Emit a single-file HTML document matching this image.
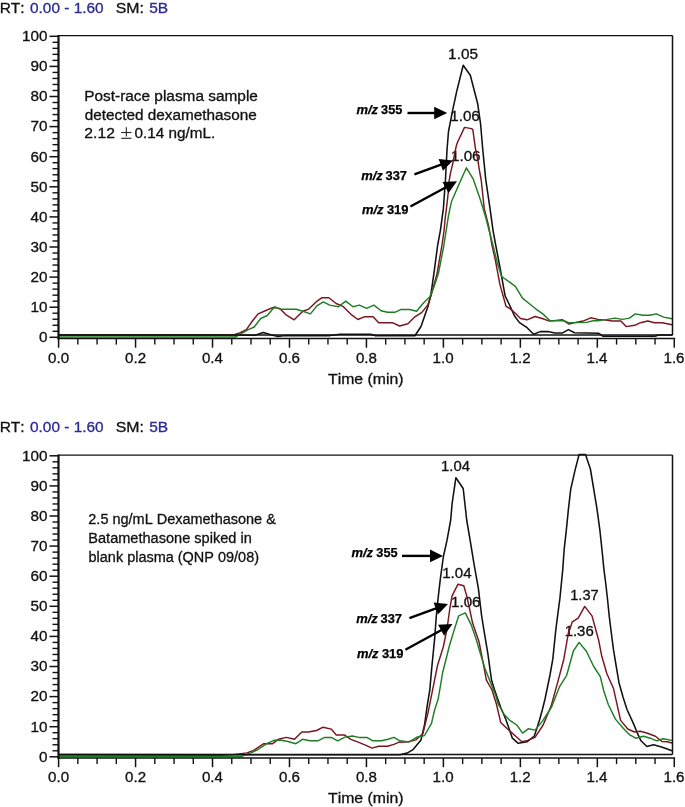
<!DOCTYPE html>
<html><head><meta charset="utf-8"><style>
html,body{margin:0;padding:0;background:#fff;}
svg{display:block;will-change:transform;font-family:"Liberation Sans",sans-serif;font-kerning:none;}
</style></head><body>
<svg width="685" height="807" viewBox="0 0 685 807">
<rect width="685" height="807" fill="#fff"/>
<text x="448.13" y="58.90" font-size="14" stroke="#111" stroke-width="0.3" fill="#111" textLength="29.81" lengthAdjust="spacingAndGlyphs">1.05</text>
<text x="450.24" y="120.60" font-size="14" stroke="#111" stroke-width="0.3" fill="#111" textLength="29.52" lengthAdjust="spacingAndGlyphs">1.06</text>
<text x="450.94" y="161.00" font-size="14" stroke="#111" stroke-width="0.3" fill="#111" textLength="29.63" lengthAdjust="spacingAndGlyphs">1.06</text>
<polyline points="58.8,335.0 220.0,335.0 255.0,335.2 263.4,332.6 270.0,334.6 277.8,336.6 285.0,335.6 330.0,335.6 340.0,334.2 370.7,334.2 375.5,335.8 400.0,335.5 414.9,335.8 421.0,326.5 428.0,306.3 430.7,295.8 434.2,271.3 437.7,245.0 440.4,230.3 443.4,208.4 445.5,179.2 447.0,150.0 448.5,131.5 452.8,109.6 456.7,91.4 463.2,65.3 470.3,75.3 477.7,103.8 480.6,124.2 482.8,150.0 485.7,179.2 490.0,208.4 493.0,230.3 495.7,245.0 500.7,271.3 505.1,295.8 509.8,305.5 514.5,316.0 519.5,322.6 527.1,327.7 533.7,334.2 540.2,331.6 548.1,331.6 554.7,332.9 562.6,332.9 568.5,329.6 574.4,332.7 598.5,333.2 603.1,336.3 655.0,336.3 659.0,335.0 672.0,335.0" fill="none" stroke="#111" stroke-width="1.55" stroke-linejoin="round" stroke-linecap="round"/>
<polyline points="58.8,335.2 225.0,335.2 233.1,334.9 239.7,333.0 246.3,329.7 252.8,320.5 258.1,313.9 264.7,311.0 272.6,307.6 279.8,308.4 285.7,314.6 294.2,319.8 302.8,311.3 308.8,309.1 316.1,301.9 321.7,297.8 328.9,297.8 336.1,303.5 343.4,306.7 351.4,314.7 357.8,319.5 364.2,316.8 373.1,316.8 378.7,322.7 392.3,322.7 399.6,326.0 407.9,323.8 414.9,316.8 421.9,312.4 428.0,304.6 431.5,294.0 436.8,274.8 442.0,245.0 444.1,230.3 445.0,220.0 446.9,204.6 448.4,191.2 449.1,180.8 450.6,172.6 452.7,163.8 454.4,155.0 456.2,146.3 457.5,142.3 464.5,127.4 471.5,128.6 472.8,129.6 475.5,148.9 477.7,159.4 479.8,172.5 481.2,180.0 484.2,208.4 488.6,225.9 492.0,245.0 495.5,260.8 499.9,284.4 506.0,306.3 510.0,308.6 515.3,313.2 520.5,318.5 527.1,319.8 535.0,316.5 542.2,318.5 549.4,321.1 562.6,319.8 569.1,324.1 575.7,322.4 584.2,320.7 590.8,317.8 597.9,319.4 605.8,320.1 612.3,321.0 620.9,321.0 626.1,326.6 634.7,325.3 640.6,322.7 647.8,321.0 654.4,322.7 662.3,322.7 672.1,324.7" fill="none" stroke="#7a1520" stroke-width="1.45" stroke-linejoin="round" stroke-linecap="round"/>
<polyline points="58.8,336.9 235.8,336.9 242.3,333.0 248.2,329.7 254.2,327.0 260.7,318.5 267.3,315.5 274.5,306.7 280.4,309.3 296.2,309.3 302.8,311.3 310.4,313.9 316.9,305.9 323.3,301.9 329.7,305.1 338.5,306.7 345.8,301.1 353.0,306.7 359.4,305.1 366.6,308.3 373.9,305.1 381.1,310.7 387.5,312.3 394.7,312.3 401.2,309.4 409.6,309.5 416.6,311.2 422.8,303.7 429.8,296.7 434.2,286.2 438.5,273.0 443.6,247.0 448.5,215.7 451.4,201.8 458.7,185.0 466.4,167.8 473.3,179.2 479.9,198.2 485.7,217.2 492.9,245.0 497.2,262.5 501.6,276.5 510.0,282.3 515.3,286.3 522.5,298.1 529.7,304.0 536.3,309.3 542.8,313.9 550.1,320.7 563.9,320.7 569.1,322.8 586.2,322.4 593.4,320.7 597.9,320.7 607.1,319.4 615.0,318.1 622.2,319.4 629.4,318.1 635.3,313.9 642.6,315.2 649.8,315.2 656.4,313.9 663.6,317.1 672.1,318.8" fill="none" stroke="#1f7d25" stroke-width="1.45" stroke-linejoin="round" stroke-linecap="round"/>
<text x="-0.37" y="12.50" font-size="14" stroke="#111" stroke-width="0.3" fill="#111" textLength="24.99" lengthAdjust="spacingAndGlyphs">RT:</text>
<text x="30.00" y="12.60" font-size="14" stroke="#2c2a94" stroke-width="0.3" fill="#2c2a94" textLength="73.60" lengthAdjust="spacingAndGlyphs">0.00 - 1.60</text>
<text x="115.68" y="12.50" font-size="14" stroke="#111" stroke-width="0.3" fill="#111" textLength="28.17" lengthAdjust="spacingAndGlyphs">SM:</text>
<text x="149.18" y="12.60" font-size="14" stroke="#2c2a94" stroke-width="0.3" fill="#2c2a94" textLength="18.94" lengthAdjust="spacingAndGlyphs">5B</text>
<line x1="58.50" y1="35.60" x2="672.50" y2="35.60" stroke="#111" stroke-width="1.4"/>
<line x1="672.50" y1="35.60" x2="672.50" y2="335.00" stroke="#111" stroke-width="1.5"/>
<line x1="58.50" y1="335.00" x2="672.50" y2="335.00" stroke="#111" stroke-width="1.3"/>
<line x1="58.50" y1="35.10" x2="58.50" y2="339.20" stroke="#111" stroke-width="2.2"/>
<line x1="57.50" y1="338.50" x2="675.20" y2="338.50" stroke="#111" stroke-width="1.5"/>
<line x1="49.50" y1="337.30" x2="58.50" y2="337.30" stroke="#111" stroke-width="1.5"/>
<line x1="52.50" y1="331.28" x2="58.50" y2="331.28" stroke="#111" stroke-width="1.4"/>
<line x1="52.50" y1="325.26" x2="58.50" y2="325.26" stroke="#111" stroke-width="1.4"/>
<line x1="52.50" y1="319.24" x2="58.50" y2="319.24" stroke="#111" stroke-width="1.4"/>
<line x1="52.50" y1="313.22" x2="58.50" y2="313.22" stroke="#111" stroke-width="1.4"/>
<line x1="49.50" y1="307.20" x2="58.50" y2="307.20" stroke="#111" stroke-width="1.5"/>
<line x1="52.50" y1="301.18" x2="58.50" y2="301.18" stroke="#111" stroke-width="1.4"/>
<line x1="52.50" y1="295.16" x2="58.50" y2="295.16" stroke="#111" stroke-width="1.4"/>
<line x1="52.50" y1="289.14" x2="58.50" y2="289.14" stroke="#111" stroke-width="1.4"/>
<line x1="52.50" y1="283.12" x2="58.50" y2="283.12" stroke="#111" stroke-width="1.4"/>
<line x1="49.50" y1="277.10" x2="58.50" y2="277.10" stroke="#111" stroke-width="1.5"/>
<line x1="52.50" y1="271.08" x2="58.50" y2="271.08" stroke="#111" stroke-width="1.4"/>
<line x1="52.50" y1="265.06" x2="58.50" y2="265.06" stroke="#111" stroke-width="1.4"/>
<line x1="52.50" y1="259.04" x2="58.50" y2="259.04" stroke="#111" stroke-width="1.4"/>
<line x1="52.50" y1="253.02" x2="58.50" y2="253.02" stroke="#111" stroke-width="1.4"/>
<line x1="49.50" y1="247.00" x2="58.50" y2="247.00" stroke="#111" stroke-width="1.5"/>
<line x1="52.50" y1="240.98" x2="58.50" y2="240.98" stroke="#111" stroke-width="1.4"/>
<line x1="52.50" y1="234.96" x2="58.50" y2="234.96" stroke="#111" stroke-width="1.4"/>
<line x1="52.50" y1="228.94" x2="58.50" y2="228.94" stroke="#111" stroke-width="1.4"/>
<line x1="52.50" y1="222.92" x2="58.50" y2="222.92" stroke="#111" stroke-width="1.4"/>
<line x1="49.50" y1="216.90" x2="58.50" y2="216.90" stroke="#111" stroke-width="1.5"/>
<line x1="52.50" y1="210.88" x2="58.50" y2="210.88" stroke="#111" stroke-width="1.4"/>
<line x1="52.50" y1="204.86" x2="58.50" y2="204.86" stroke="#111" stroke-width="1.4"/>
<line x1="52.50" y1="198.84" x2="58.50" y2="198.84" stroke="#111" stroke-width="1.4"/>
<line x1="52.50" y1="192.82" x2="58.50" y2="192.82" stroke="#111" stroke-width="1.4"/>
<line x1="49.50" y1="186.80" x2="58.50" y2="186.80" stroke="#111" stroke-width="1.5"/>
<line x1="52.50" y1="180.78" x2="58.50" y2="180.78" stroke="#111" stroke-width="1.4"/>
<line x1="52.50" y1="174.76" x2="58.50" y2="174.76" stroke="#111" stroke-width="1.4"/>
<line x1="52.50" y1="168.74" x2="58.50" y2="168.74" stroke="#111" stroke-width="1.4"/>
<line x1="52.50" y1="162.72" x2="58.50" y2="162.72" stroke="#111" stroke-width="1.4"/>
<line x1="49.50" y1="156.70" x2="58.50" y2="156.70" stroke="#111" stroke-width="1.5"/>
<line x1="52.50" y1="150.68" x2="58.50" y2="150.68" stroke="#111" stroke-width="1.4"/>
<line x1="52.50" y1="144.66" x2="58.50" y2="144.66" stroke="#111" stroke-width="1.4"/>
<line x1="52.50" y1="138.64" x2="58.50" y2="138.64" stroke="#111" stroke-width="1.4"/>
<line x1="52.50" y1="132.62" x2="58.50" y2="132.62" stroke="#111" stroke-width="1.4"/>
<line x1="49.50" y1="126.60" x2="58.50" y2="126.60" stroke="#111" stroke-width="1.5"/>
<line x1="52.50" y1="120.58" x2="58.50" y2="120.58" stroke="#111" stroke-width="1.4"/>
<line x1="52.50" y1="114.56" x2="58.50" y2="114.56" stroke="#111" stroke-width="1.4"/>
<line x1="52.50" y1="108.54" x2="58.50" y2="108.54" stroke="#111" stroke-width="1.4"/>
<line x1="52.50" y1="102.52" x2="58.50" y2="102.52" stroke="#111" stroke-width="1.4"/>
<line x1="49.50" y1="96.50" x2="58.50" y2="96.50" stroke="#111" stroke-width="1.5"/>
<line x1="52.50" y1="90.48" x2="58.50" y2="90.48" stroke="#111" stroke-width="1.4"/>
<line x1="52.50" y1="84.46" x2="58.50" y2="84.46" stroke="#111" stroke-width="1.4"/>
<line x1="52.50" y1="78.44" x2="58.50" y2="78.44" stroke="#111" stroke-width="1.4"/>
<line x1="52.50" y1="72.42" x2="58.50" y2="72.42" stroke="#111" stroke-width="1.4"/>
<line x1="49.50" y1="66.40" x2="58.50" y2="66.40" stroke="#111" stroke-width="1.5"/>
<line x1="52.50" y1="60.38" x2="58.50" y2="60.38" stroke="#111" stroke-width="1.4"/>
<line x1="52.50" y1="54.36" x2="58.50" y2="54.36" stroke="#111" stroke-width="1.4"/>
<line x1="52.50" y1="48.34" x2="58.50" y2="48.34" stroke="#111" stroke-width="1.4"/>
<line x1="52.50" y1="42.32" x2="58.50" y2="42.32" stroke="#111" stroke-width="1.4"/>
<line x1="49.50" y1="36.30" x2="58.50" y2="36.30" stroke="#111" stroke-width="1.5"/>
<text x="38.91" y="342.10" font-size="14" stroke="#111" stroke-width="0.3" fill="#111" textLength="8.49" lengthAdjust="spacingAndGlyphs">0</text>
<text x="30.42" y="312.00" font-size="14" stroke="#111" stroke-width="0.3" fill="#111" textLength="16.97" lengthAdjust="spacingAndGlyphs">10</text>
<text x="30.42" y="281.90" font-size="14" stroke="#111" stroke-width="0.3" fill="#111" textLength="16.97" lengthAdjust="spacingAndGlyphs">20</text>
<text x="30.42" y="251.80" font-size="14" stroke="#111" stroke-width="0.3" fill="#111" textLength="16.97" lengthAdjust="spacingAndGlyphs">30</text>
<text x="30.42" y="221.70" font-size="14" stroke="#111" stroke-width="0.3" fill="#111" textLength="16.97" lengthAdjust="spacingAndGlyphs">40</text>
<text x="30.42" y="191.60" font-size="14" stroke="#111" stroke-width="0.3" fill="#111" textLength="16.97" lengthAdjust="spacingAndGlyphs">50</text>
<text x="30.42" y="161.50" font-size="14" stroke="#111" stroke-width="0.3" fill="#111" textLength="16.97" lengthAdjust="spacingAndGlyphs">60</text>
<text x="30.42" y="131.40" font-size="14" stroke="#111" stroke-width="0.3" fill="#111" textLength="16.97" lengthAdjust="spacingAndGlyphs">70</text>
<text x="30.42" y="101.30" font-size="14" stroke="#111" stroke-width="0.3" fill="#111" textLength="16.97" lengthAdjust="spacingAndGlyphs">80</text>
<text x="30.42" y="71.20" font-size="14" stroke="#111" stroke-width="0.3" fill="#111" textLength="16.97" lengthAdjust="spacingAndGlyphs">90</text>
<text x="21.94" y="41.10" font-size="14" stroke="#111" stroke-width="0.3" fill="#111" textLength="25.46" lengthAdjust="spacingAndGlyphs">100</text>
<line x1="58.60" y1="338.50" x2="58.60" y2="347.70" stroke="#111" stroke-width="1.5"/>
<line x1="77.84" y1="338.50" x2="77.84" y2="344.60" stroke="#111" stroke-width="1.4"/>
<line x1="97.08" y1="338.50" x2="97.08" y2="344.60" stroke="#111" stroke-width="1.4"/>
<line x1="116.32" y1="338.50" x2="116.32" y2="344.60" stroke="#111" stroke-width="1.4"/>
<line x1="135.56" y1="338.50" x2="135.56" y2="347.70" stroke="#111" stroke-width="1.5"/>
<line x1="154.80" y1="338.50" x2="154.80" y2="344.60" stroke="#111" stroke-width="1.4"/>
<line x1="174.04" y1="338.50" x2="174.04" y2="344.60" stroke="#111" stroke-width="1.4"/>
<line x1="193.28" y1="338.50" x2="193.28" y2="344.60" stroke="#111" stroke-width="1.4"/>
<line x1="212.52" y1="338.50" x2="212.52" y2="347.70" stroke="#111" stroke-width="1.5"/>
<line x1="231.76" y1="338.50" x2="231.76" y2="344.60" stroke="#111" stroke-width="1.4"/>
<line x1="251.00" y1="338.50" x2="251.00" y2="344.60" stroke="#111" stroke-width="1.4"/>
<line x1="270.24" y1="338.50" x2="270.24" y2="344.60" stroke="#111" stroke-width="1.4"/>
<line x1="289.48" y1="338.50" x2="289.48" y2="347.70" stroke="#111" stroke-width="1.5"/>
<line x1="308.72" y1="338.50" x2="308.72" y2="344.60" stroke="#111" stroke-width="1.4"/>
<line x1="327.96" y1="338.50" x2="327.96" y2="344.60" stroke="#111" stroke-width="1.4"/>
<line x1="347.20" y1="338.50" x2="347.20" y2="344.60" stroke="#111" stroke-width="1.4"/>
<line x1="366.44" y1="338.50" x2="366.44" y2="347.70" stroke="#111" stroke-width="1.5"/>
<line x1="385.68" y1="338.50" x2="385.68" y2="344.60" stroke="#111" stroke-width="1.4"/>
<line x1="404.92" y1="338.50" x2="404.92" y2="344.60" stroke="#111" stroke-width="1.4"/>
<line x1="424.16" y1="338.50" x2="424.16" y2="344.60" stroke="#111" stroke-width="1.4"/>
<line x1="443.40" y1="338.50" x2="443.40" y2="347.70" stroke="#111" stroke-width="1.5"/>
<line x1="462.64" y1="338.50" x2="462.64" y2="344.60" stroke="#111" stroke-width="1.4"/>
<line x1="481.88" y1="338.50" x2="481.88" y2="344.60" stroke="#111" stroke-width="1.4"/>
<line x1="501.12" y1="338.50" x2="501.12" y2="344.60" stroke="#111" stroke-width="1.4"/>
<line x1="520.36" y1="338.50" x2="520.36" y2="347.70" stroke="#111" stroke-width="1.5"/>
<line x1="539.60" y1="338.50" x2="539.60" y2="344.60" stroke="#111" stroke-width="1.4"/>
<line x1="558.84" y1="338.50" x2="558.84" y2="344.60" stroke="#111" stroke-width="1.4"/>
<line x1="578.08" y1="338.50" x2="578.08" y2="344.60" stroke="#111" stroke-width="1.4"/>
<line x1="597.32" y1="338.50" x2="597.32" y2="347.70" stroke="#111" stroke-width="1.5"/>
<line x1="616.56" y1="338.50" x2="616.56" y2="344.60" stroke="#111" stroke-width="1.4"/>
<line x1="635.80" y1="338.50" x2="635.80" y2="344.60" stroke="#111" stroke-width="1.4"/>
<line x1="655.04" y1="338.50" x2="655.04" y2="344.60" stroke="#111" stroke-width="1.4"/>
<line x1="674.28" y1="338.50" x2="674.28" y2="347.70" stroke="#111" stroke-width="1.5"/>
<text x="48.09" y="362.60" font-size="14" stroke="#111" stroke-width="0.3" fill="#111" textLength="21.02" lengthAdjust="spacingAndGlyphs">0.0</text>
<text x="125.14" y="362.60" font-size="14" stroke="#111" stroke-width="0.3" fill="#111" textLength="21.02" lengthAdjust="spacingAndGlyphs">0.2</text>
<text x="201.94" y="362.60" font-size="14" stroke="#111" stroke-width="0.3" fill="#111" textLength="21.02" lengthAdjust="spacingAndGlyphs">0.4</text>
<text x="279.01" y="362.60" font-size="14" stroke="#111" stroke-width="0.3" fill="#111" textLength="21.02" lengthAdjust="spacingAndGlyphs">0.6</text>
<text x="355.96" y="362.60" font-size="14" stroke="#111" stroke-width="0.3" fill="#111" textLength="21.02" lengthAdjust="spacingAndGlyphs">0.8</text>
<text x="432.61" y="362.60" font-size="14" stroke="#111" stroke-width="0.3" fill="#111" textLength="21.02" lengthAdjust="spacingAndGlyphs">1.0</text>
<text x="509.65" y="362.60" font-size="14" stroke="#111" stroke-width="0.3" fill="#111" textLength="21.02" lengthAdjust="spacingAndGlyphs">1.2</text>
<text x="586.46" y="362.60" font-size="14" stroke="#111" stroke-width="0.3" fill="#111" textLength="21.02" lengthAdjust="spacingAndGlyphs">1.4</text>
<text x="663.53" y="362.60" font-size="14" stroke="#111" stroke-width="0.3" fill="#111" textLength="21.02" lengthAdjust="spacingAndGlyphs">1.6</text>
<text x="328.05" y="383.80" font-size="14" stroke="#111" stroke-width="0.3" fill="#111" textLength="75.43" lengthAdjust="spacingAndGlyphs">Time (min)</text>
<text x="84.24" y="101.40" font-size="14" stroke="#111" stroke-width="0.3" fill="#111" textLength="173.65" lengthAdjust="spacingAndGlyphs">Post-race plasma sample</text>
<text x="84.66" y="119.70" font-size="14" stroke="#111" stroke-width="0.3" fill="#111" textLength="172.12" lengthAdjust="spacingAndGlyphs">detected dexamethasone</text>
<text x="84.31" y="138.00" font-size="14" stroke="#111" stroke-width="0.3" fill="#111" textLength="30.58" lengthAdjust="spacingAndGlyphs">2.12</text>
<line x1="121.20" y1="132.50" x2="131.50" y2="132.50" stroke="#222" stroke-width="1.1"/>
<line x1="126.35" y1="127.20" x2="126.35" y2="136.60" stroke="#222" stroke-width="1.1"/>
<line x1="121.20" y1="138.30" x2="131.50" y2="138.30" stroke="#222" stroke-width="1.1"/>
<text x="134.40" y="138.00" font-size="14" stroke="#111" stroke-width="0.3" fill="#111" textLength="80.79" lengthAdjust="spacingAndGlyphs">0.14 ng/mL.</text>
<text x="356.48" y="113.60" font-size="12" font-weight="bold" font-style="italic" stroke="#000" stroke-width="0.25" fill="#000" textLength="21.61" lengthAdjust="spacingAndGlyphs">m/z</text>
<text x="381.11" y="113.60" font-size="12" font-weight="bold" stroke="#000" stroke-width="0.25" fill="#000" textLength="21.25" lengthAdjust="spacingAndGlyphs">355</text>
<text x="361.18" y="179.70" font-size="12" font-weight="bold" font-style="italic" stroke="#000" stroke-width="0.25" fill="#000" textLength="21.61" lengthAdjust="spacingAndGlyphs">m/z</text>
<text x="385.50" y="179.70" font-size="12" font-weight="bold" stroke="#000" stroke-width="0.25" fill="#000" textLength="21.46" lengthAdjust="spacingAndGlyphs">337</text>
<text x="361.98" y="214.20" font-size="12" font-weight="bold" font-style="italic" stroke="#000" stroke-width="0.25" fill="#000" textLength="21.61" lengthAdjust="spacingAndGlyphs">m/z</text>
<text x="386.90" y="214.20" font-size="12" font-weight="bold" stroke="#000" stroke-width="0.25" fill="#000" textLength="21.58" lengthAdjust="spacingAndGlyphs">319</text>
<line x1="407.50" y1="113.00" x2="435.20" y2="113.00" stroke="#000" stroke-width="2.4"/>
<polygon points="447.20,113.00 434.20,119.30 434.20,106.70" fill="#000"/>
<line x1="414.40" y1="174.40" x2="441.72" y2="164.49" stroke="#000" stroke-width="2.4"/>
<polygon points="453.00,160.40 442.93,170.75 438.63,158.91" fill="#000"/>
<line x1="410.40" y1="206.50" x2="446.44" y2="187.01" stroke="#000" stroke-width="2.4"/>
<polygon points="457.00,181.30 448.56,193.03 442.57,181.94" fill="#000"/>
<text x="441.07" y="471.00" font-size="14" stroke="#111" stroke-width="0.3" fill="#111" textLength="28.97" lengthAdjust="spacingAndGlyphs">1.04</text>
<text x="442.25" y="577.80" font-size="14" stroke="#111" stroke-width="0.3" fill="#111" textLength="29.29" lengthAdjust="spacingAndGlyphs">1.04</text>
<text x="450.94" y="606.50" font-size="14" stroke="#111" stroke-width="0.3" fill="#111" textLength="29.63" lengthAdjust="spacingAndGlyphs">1.06</text>
<text x="570.19" y="599.60" font-size="14" stroke="#111" stroke-width="0.3" fill="#111" textLength="28.45" lengthAdjust="spacingAndGlyphs">1.37</text>
<text x="564.66" y="635.60" font-size="14" stroke="#111" stroke-width="0.3" fill="#111" textLength="29.10" lengthAdjust="spacingAndGlyphs">1.36</text>
<polyline points="58.8,754.6 395.0,754.8 400.0,754.8 407.0,753.1 413.1,749.6 421.0,739.9 424.5,725.0 427.2,705.8 429.8,690.0 431.7,668.4 434.6,639.2 436.4,615.0 438.2,597.4 440.4,578.4 443.4,556.5 447.0,540.4 450.7,520.0 452.1,503.7 455.9,477.7 463.2,488.5 466.7,520.0 470.4,541.9 474.0,563.8 478.4,588.6 481.5,615.0 484.2,631.9 487.9,653.8 491.5,680.1 494.6,690.0 500.7,707.5 505.8,719.2 512.4,738.2 518.2,743.3 527.0,741.8 534.3,736.0 537.0,728.0 539.5,720.0 542.3,710.0 545.0,699.0 547.5,687.0 550.0,675.0 552.8,659.2 555.8,630.0 557.0,620.3 559.9,598.4 562.8,569.2 564.1,550.0 566.3,530.3 568.5,508.4 570.7,489.4 575.0,470.4 579.1,454.5 585.5,454.5 590.4,469.0 593.3,486.5 596.9,508.4 599.9,530.3 602.0,550.0 603.9,569.2 605.8,584.0 607.6,600.0 609.2,615.8 611.2,632.0 613.4,649.2 616.0,665.0 619.0,682.7 623.0,697.0 627.0,709.5 633.8,724.4 637.0,732.3 641.0,740.8 646.9,746.5 653.5,744.7 660.7,746.7 666.6,748.7 671.9,750.7" fill="none" stroke="#111" stroke-width="1.55" stroke-linejoin="round" stroke-linecap="round"/>
<polyline points="58.8,754.8 220.0,755.2 233.1,754.6 239.0,753.9 247.0,752.9 253.6,750.3 263.8,743.7 272.6,743.7 278.4,739.3 286.4,737.4 294.5,739.3 301.8,732.0 308.3,732.0 316.6,730.5 323.1,727.2 331.2,729.1 336.3,734.9 344.3,734.9 350.9,739.3 358.2,742.2 365.5,745.1 372.0,748.1 378.6,746.2 387.4,746.2 393.9,744.4 399.0,742.2 408.8,741.7 415.8,739.9 422.8,733.8 428.0,712.8 433.1,687.4 437.5,665.5 443.4,646.5 447.0,629.0 449.9,608.0 452.1,595.9 458.0,584.2 463.8,585.7 466.7,595.9 469.6,609.0 472.6,623.1 479.1,642.1 482.8,661.1 486.4,680.1 492.0,690.0 496.4,704.0 500.7,722.4 507.3,728.7 514.6,735.3 521.9,741.8 527.7,740.4 535.0,737.4 543.1,725.0 551.1,706.1 558.0,681.1 563.8,659.2 568.9,630.0 569.4,630.5 572.3,621.8 578.2,618.1 584.7,606.4 592.0,615.9 598.6,640.0 601.8,656.3 606.9,673.8 613.4,688.2 620.6,720.4 627.8,729.0 634.4,732.0 640.3,731.3 647.6,733.3 655.4,736.2 662.0,741.5 667.3,741.7 671.9,743.0" fill="none" stroke="#7a1520" stroke-width="1.45" stroke-linejoin="round" stroke-linecap="round"/>
<polyline points="58.8,756.6 241.9,756.4 252.1,752.4 258.0,749.5 266.7,743.7 274.0,740.3 279.9,740.0 287.9,741.5 295.9,743.7 302.5,739.3 310.0,740.8 318.0,740.8 324.6,737.4 331.2,737.4 337.7,740.8 345.0,737.1 352.3,736.0 358.9,737.4 366.9,737.4 372.8,740.8 381.5,740.8 388.1,739.3 393.9,737.4 399.8,740.8 408.8,742.0 416.6,737.3 424.5,735.5 431.5,723.3 434.6,710.0 438.2,699.0 442.6,672.8 446.3,658.2 449.2,646.5 453.6,631.9 458.7,615.8 465.3,612.9 471.1,624.6 476.2,639.2 481.3,656.7 485.0,668.4 490.1,681.5 495.9,696.1 498.1,704.0 504.2,714.5 510.2,720.7 516.8,725.0 522.6,733.1 528.5,728.7 535.0,730.1 542.3,721.4 551.4,707.4 559.4,686.9 566.7,675.3 573.3,651.2 579.1,642.4 586.4,651.2 593.7,666.5 600.3,676.7 603.9,691.3 608.3,704.5 615.4,719.1 623.2,728.3 629.8,734.9 635.7,738.2 643.6,736.2 650.2,738.2 656.8,740.8 663.3,738.8 671.9,740.4" fill="none" stroke="#1f7d25" stroke-width="1.45" stroke-linejoin="round" stroke-linecap="round"/>
<text x="-0.37" y="432.00" font-size="14" stroke="#111" stroke-width="0.3" fill="#111" textLength="24.99" lengthAdjust="spacingAndGlyphs">RT:</text>
<text x="30.00" y="432.10" font-size="14" stroke="#2c2a94" stroke-width="0.3" fill="#2c2a94" textLength="73.60" lengthAdjust="spacingAndGlyphs">0.00 - 1.60</text>
<text x="115.68" y="432.00" font-size="14" stroke="#111" stroke-width="0.3" fill="#111" textLength="28.17" lengthAdjust="spacingAndGlyphs">SM:</text>
<text x="149.18" y="432.10" font-size="14" stroke="#2c2a94" stroke-width="0.3" fill="#2c2a94" textLength="18.94" lengthAdjust="spacingAndGlyphs">5B</text>
<line x1="58.50" y1="455.10" x2="672.50" y2="455.10" stroke="#111" stroke-width="1.4"/>
<line x1="672.50" y1="455.10" x2="672.50" y2="754.50" stroke="#111" stroke-width="1.5"/>
<line x1="58.50" y1="754.50" x2="672.50" y2="754.50" stroke="#111" stroke-width="1.3"/>
<line x1="58.50" y1="454.60" x2="58.50" y2="758.70" stroke="#111" stroke-width="2.2"/>
<line x1="57.50" y1="758.00" x2="675.20" y2="758.00" stroke="#111" stroke-width="1.5"/>
<line x1="49.50" y1="756.80" x2="58.50" y2="756.80" stroke="#111" stroke-width="1.5"/>
<line x1="52.50" y1="750.78" x2="58.50" y2="750.78" stroke="#111" stroke-width="1.4"/>
<line x1="52.50" y1="744.76" x2="58.50" y2="744.76" stroke="#111" stroke-width="1.4"/>
<line x1="52.50" y1="738.74" x2="58.50" y2="738.74" stroke="#111" stroke-width="1.4"/>
<line x1="52.50" y1="732.72" x2="58.50" y2="732.72" stroke="#111" stroke-width="1.4"/>
<line x1="49.50" y1="726.70" x2="58.50" y2="726.70" stroke="#111" stroke-width="1.5"/>
<line x1="52.50" y1="720.68" x2="58.50" y2="720.68" stroke="#111" stroke-width="1.4"/>
<line x1="52.50" y1="714.66" x2="58.50" y2="714.66" stroke="#111" stroke-width="1.4"/>
<line x1="52.50" y1="708.64" x2="58.50" y2="708.64" stroke="#111" stroke-width="1.4"/>
<line x1="52.50" y1="702.62" x2="58.50" y2="702.62" stroke="#111" stroke-width="1.4"/>
<line x1="49.50" y1="696.60" x2="58.50" y2="696.60" stroke="#111" stroke-width="1.5"/>
<line x1="52.50" y1="690.58" x2="58.50" y2="690.58" stroke="#111" stroke-width="1.4"/>
<line x1="52.50" y1="684.56" x2="58.50" y2="684.56" stroke="#111" stroke-width="1.4"/>
<line x1="52.50" y1="678.54" x2="58.50" y2="678.54" stroke="#111" stroke-width="1.4"/>
<line x1="52.50" y1="672.52" x2="58.50" y2="672.52" stroke="#111" stroke-width="1.4"/>
<line x1="49.50" y1="666.50" x2="58.50" y2="666.50" stroke="#111" stroke-width="1.5"/>
<line x1="52.50" y1="660.48" x2="58.50" y2="660.48" stroke="#111" stroke-width="1.4"/>
<line x1="52.50" y1="654.46" x2="58.50" y2="654.46" stroke="#111" stroke-width="1.4"/>
<line x1="52.50" y1="648.44" x2="58.50" y2="648.44" stroke="#111" stroke-width="1.4"/>
<line x1="52.50" y1="642.42" x2="58.50" y2="642.42" stroke="#111" stroke-width="1.4"/>
<line x1="49.50" y1="636.40" x2="58.50" y2="636.40" stroke="#111" stroke-width="1.5"/>
<line x1="52.50" y1="630.38" x2="58.50" y2="630.38" stroke="#111" stroke-width="1.4"/>
<line x1="52.50" y1="624.36" x2="58.50" y2="624.36" stroke="#111" stroke-width="1.4"/>
<line x1="52.50" y1="618.34" x2="58.50" y2="618.34" stroke="#111" stroke-width="1.4"/>
<line x1="52.50" y1="612.32" x2="58.50" y2="612.32" stroke="#111" stroke-width="1.4"/>
<line x1="49.50" y1="606.30" x2="58.50" y2="606.30" stroke="#111" stroke-width="1.5"/>
<line x1="52.50" y1="600.28" x2="58.50" y2="600.28" stroke="#111" stroke-width="1.4"/>
<line x1="52.50" y1="594.26" x2="58.50" y2="594.26" stroke="#111" stroke-width="1.4"/>
<line x1="52.50" y1="588.24" x2="58.50" y2="588.24" stroke="#111" stroke-width="1.4"/>
<line x1="52.50" y1="582.22" x2="58.50" y2="582.22" stroke="#111" stroke-width="1.4"/>
<line x1="49.50" y1="576.20" x2="58.50" y2="576.20" stroke="#111" stroke-width="1.5"/>
<line x1="52.50" y1="570.18" x2="58.50" y2="570.18" stroke="#111" stroke-width="1.4"/>
<line x1="52.50" y1="564.16" x2="58.50" y2="564.16" stroke="#111" stroke-width="1.4"/>
<line x1="52.50" y1="558.14" x2="58.50" y2="558.14" stroke="#111" stroke-width="1.4"/>
<line x1="52.50" y1="552.12" x2="58.50" y2="552.12" stroke="#111" stroke-width="1.4"/>
<line x1="49.50" y1="546.10" x2="58.50" y2="546.10" stroke="#111" stroke-width="1.5"/>
<line x1="52.50" y1="540.08" x2="58.50" y2="540.08" stroke="#111" stroke-width="1.4"/>
<line x1="52.50" y1="534.06" x2="58.50" y2="534.06" stroke="#111" stroke-width="1.4"/>
<line x1="52.50" y1="528.04" x2="58.50" y2="528.04" stroke="#111" stroke-width="1.4"/>
<line x1="52.50" y1="522.02" x2="58.50" y2="522.02" stroke="#111" stroke-width="1.4"/>
<line x1="49.50" y1="516.00" x2="58.50" y2="516.00" stroke="#111" stroke-width="1.5"/>
<line x1="52.50" y1="509.98" x2="58.50" y2="509.98" stroke="#111" stroke-width="1.4"/>
<line x1="52.50" y1="503.96" x2="58.50" y2="503.96" stroke="#111" stroke-width="1.4"/>
<line x1="52.50" y1="497.94" x2="58.50" y2="497.94" stroke="#111" stroke-width="1.4"/>
<line x1="52.50" y1="491.92" x2="58.50" y2="491.92" stroke="#111" stroke-width="1.4"/>
<line x1="49.50" y1="485.90" x2="58.50" y2="485.90" stroke="#111" stroke-width="1.5"/>
<line x1="52.50" y1="479.88" x2="58.50" y2="479.88" stroke="#111" stroke-width="1.4"/>
<line x1="52.50" y1="473.86" x2="58.50" y2="473.86" stroke="#111" stroke-width="1.4"/>
<line x1="52.50" y1="467.84" x2="58.50" y2="467.84" stroke="#111" stroke-width="1.4"/>
<line x1="52.50" y1="461.82" x2="58.50" y2="461.82" stroke="#111" stroke-width="1.4"/>
<line x1="49.50" y1="455.80" x2="58.50" y2="455.80" stroke="#111" stroke-width="1.5"/>
<text x="38.91" y="761.60" font-size="14" stroke="#111" stroke-width="0.3" fill="#111" textLength="8.49" lengthAdjust="spacingAndGlyphs">0</text>
<text x="30.42" y="731.50" font-size="14" stroke="#111" stroke-width="0.3" fill="#111" textLength="16.97" lengthAdjust="spacingAndGlyphs">10</text>
<text x="30.42" y="701.40" font-size="14" stroke="#111" stroke-width="0.3" fill="#111" textLength="16.97" lengthAdjust="spacingAndGlyphs">20</text>
<text x="30.42" y="671.30" font-size="14" stroke="#111" stroke-width="0.3" fill="#111" textLength="16.97" lengthAdjust="spacingAndGlyphs">30</text>
<text x="30.42" y="641.20" font-size="14" stroke="#111" stroke-width="0.3" fill="#111" textLength="16.97" lengthAdjust="spacingAndGlyphs">40</text>
<text x="30.42" y="611.10" font-size="14" stroke="#111" stroke-width="0.3" fill="#111" textLength="16.97" lengthAdjust="spacingAndGlyphs">50</text>
<text x="30.42" y="581.00" font-size="14" stroke="#111" stroke-width="0.3" fill="#111" textLength="16.97" lengthAdjust="spacingAndGlyphs">60</text>
<text x="30.42" y="550.90" font-size="14" stroke="#111" stroke-width="0.3" fill="#111" textLength="16.97" lengthAdjust="spacingAndGlyphs">70</text>
<text x="30.42" y="520.80" font-size="14" stroke="#111" stroke-width="0.3" fill="#111" textLength="16.97" lengthAdjust="spacingAndGlyphs">80</text>
<text x="30.42" y="490.70" font-size="14" stroke="#111" stroke-width="0.3" fill="#111" textLength="16.97" lengthAdjust="spacingAndGlyphs">90</text>
<text x="21.94" y="460.60" font-size="14" stroke="#111" stroke-width="0.3" fill="#111" textLength="25.46" lengthAdjust="spacingAndGlyphs">100</text>
<line x1="58.60" y1="758.00" x2="58.60" y2="767.20" stroke="#111" stroke-width="1.5"/>
<line x1="77.84" y1="758.00" x2="77.84" y2="764.10" stroke="#111" stroke-width="1.4"/>
<line x1="97.08" y1="758.00" x2="97.08" y2="764.10" stroke="#111" stroke-width="1.4"/>
<line x1="116.32" y1="758.00" x2="116.32" y2="764.10" stroke="#111" stroke-width="1.4"/>
<line x1="135.56" y1="758.00" x2="135.56" y2="767.20" stroke="#111" stroke-width="1.5"/>
<line x1="154.80" y1="758.00" x2="154.80" y2="764.10" stroke="#111" stroke-width="1.4"/>
<line x1="174.04" y1="758.00" x2="174.04" y2="764.10" stroke="#111" stroke-width="1.4"/>
<line x1="193.28" y1="758.00" x2="193.28" y2="764.10" stroke="#111" stroke-width="1.4"/>
<line x1="212.52" y1="758.00" x2="212.52" y2="767.20" stroke="#111" stroke-width="1.5"/>
<line x1="231.76" y1="758.00" x2="231.76" y2="764.10" stroke="#111" stroke-width="1.4"/>
<line x1="251.00" y1="758.00" x2="251.00" y2="764.10" stroke="#111" stroke-width="1.4"/>
<line x1="270.24" y1="758.00" x2="270.24" y2="764.10" stroke="#111" stroke-width="1.4"/>
<line x1="289.48" y1="758.00" x2="289.48" y2="767.20" stroke="#111" stroke-width="1.5"/>
<line x1="308.72" y1="758.00" x2="308.72" y2="764.10" stroke="#111" stroke-width="1.4"/>
<line x1="327.96" y1="758.00" x2="327.96" y2="764.10" stroke="#111" stroke-width="1.4"/>
<line x1="347.20" y1="758.00" x2="347.20" y2="764.10" stroke="#111" stroke-width="1.4"/>
<line x1="366.44" y1="758.00" x2="366.44" y2="767.20" stroke="#111" stroke-width="1.5"/>
<line x1="385.68" y1="758.00" x2="385.68" y2="764.10" stroke="#111" stroke-width="1.4"/>
<line x1="404.92" y1="758.00" x2="404.92" y2="764.10" stroke="#111" stroke-width="1.4"/>
<line x1="424.16" y1="758.00" x2="424.16" y2="764.10" stroke="#111" stroke-width="1.4"/>
<line x1="443.40" y1="758.00" x2="443.40" y2="767.20" stroke="#111" stroke-width="1.5"/>
<line x1="462.64" y1="758.00" x2="462.64" y2="764.10" stroke="#111" stroke-width="1.4"/>
<line x1="481.88" y1="758.00" x2="481.88" y2="764.10" stroke="#111" stroke-width="1.4"/>
<line x1="501.12" y1="758.00" x2="501.12" y2="764.10" stroke="#111" stroke-width="1.4"/>
<line x1="520.36" y1="758.00" x2="520.36" y2="767.20" stroke="#111" stroke-width="1.5"/>
<line x1="539.60" y1="758.00" x2="539.60" y2="764.10" stroke="#111" stroke-width="1.4"/>
<line x1="558.84" y1="758.00" x2="558.84" y2="764.10" stroke="#111" stroke-width="1.4"/>
<line x1="578.08" y1="758.00" x2="578.08" y2="764.10" stroke="#111" stroke-width="1.4"/>
<line x1="597.32" y1="758.00" x2="597.32" y2="767.20" stroke="#111" stroke-width="1.5"/>
<line x1="616.56" y1="758.00" x2="616.56" y2="764.10" stroke="#111" stroke-width="1.4"/>
<line x1="635.80" y1="758.00" x2="635.80" y2="764.10" stroke="#111" stroke-width="1.4"/>
<line x1="655.04" y1="758.00" x2="655.04" y2="764.10" stroke="#111" stroke-width="1.4"/>
<line x1="674.28" y1="758.00" x2="674.28" y2="767.20" stroke="#111" stroke-width="1.5"/>
<text x="48.09" y="782.10" font-size="14" stroke="#111" stroke-width="0.3" fill="#111" textLength="21.02" lengthAdjust="spacingAndGlyphs">0.0</text>
<text x="125.14" y="782.10" font-size="14" stroke="#111" stroke-width="0.3" fill="#111" textLength="21.02" lengthAdjust="spacingAndGlyphs">0.2</text>
<text x="201.94" y="782.10" font-size="14" stroke="#111" stroke-width="0.3" fill="#111" textLength="21.02" lengthAdjust="spacingAndGlyphs">0.4</text>
<text x="279.01" y="782.10" font-size="14" stroke="#111" stroke-width="0.3" fill="#111" textLength="21.02" lengthAdjust="spacingAndGlyphs">0.6</text>
<text x="355.96" y="782.10" font-size="14" stroke="#111" stroke-width="0.3" fill="#111" textLength="21.02" lengthAdjust="spacingAndGlyphs">0.8</text>
<text x="432.61" y="782.10" font-size="14" stroke="#111" stroke-width="0.3" fill="#111" textLength="21.02" lengthAdjust="spacingAndGlyphs">1.0</text>
<text x="509.65" y="782.10" font-size="14" stroke="#111" stroke-width="0.3" fill="#111" textLength="21.02" lengthAdjust="spacingAndGlyphs">1.2</text>
<text x="586.46" y="782.10" font-size="14" stroke="#111" stroke-width="0.3" fill="#111" textLength="21.02" lengthAdjust="spacingAndGlyphs">1.4</text>
<text x="663.53" y="782.10" font-size="14" stroke="#111" stroke-width="0.3" fill="#111" textLength="21.02" lengthAdjust="spacingAndGlyphs">1.6</text>
<text x="328.05" y="803.30" font-size="14" stroke="#111" stroke-width="0.3" fill="#111" textLength="75.43" lengthAdjust="spacingAndGlyphs">Time (min)</text>
<text x="88.32" y="524.40" font-size="14" stroke="#111" stroke-width="0.3" fill="#111" textLength="187.50" lengthAdjust="spacingAndGlyphs">2.5 ng/mL Dexamethasone &amp;</text>
<text x="88.31" y="543.20" font-size="14" stroke="#111" stroke-width="0.3" fill="#111" textLength="163.44" lengthAdjust="spacingAndGlyphs">Batamethasone spiked in</text>
<text x="88.57" y="561.60" font-size="14" stroke="#111" stroke-width="0.3" fill="#111" textLength="170.43" lengthAdjust="spacingAndGlyphs">blank plasma (QNP 09/08)</text>
<text x="351.48" y="557.00" font-size="12" font-weight="bold" font-style="italic" stroke="#000" stroke-width="0.25" fill="#000" textLength="21.61" lengthAdjust="spacingAndGlyphs">m/z</text>
<text x="376.31" y="557.00" font-size="12" font-weight="bold" stroke="#000" stroke-width="0.25" fill="#000" textLength="21.25" lengthAdjust="spacingAndGlyphs">355</text>
<text x="356.18" y="623.20" font-size="12" font-weight="bold" font-style="italic" stroke="#000" stroke-width="0.25" fill="#000" textLength="21.61" lengthAdjust="spacingAndGlyphs">m/z</text>
<text x="380.50" y="623.20" font-size="12" font-weight="bold" stroke="#000" stroke-width="0.25" fill="#000" textLength="21.46" lengthAdjust="spacingAndGlyphs">337</text>
<text x="356.98" y="658.30" font-size="12" font-weight="bold" font-style="italic" stroke="#000" stroke-width="0.25" fill="#000" textLength="21.61" lengthAdjust="spacingAndGlyphs">m/z</text>
<text x="381.90" y="658.30" font-size="12" font-weight="bold" stroke="#000" stroke-width="0.25" fill="#000" textLength="21.58" lengthAdjust="spacingAndGlyphs">319</text>
<line x1="402.00" y1="555.90" x2="431.00" y2="555.90" stroke="#000" stroke-width="2.4"/>
<polygon points="443.00,555.90 430.00,562.20 430.00,549.60" fill="#000"/>
<line x1="409.40" y1="618.10" x2="436.72" y2="608.19" stroke="#000" stroke-width="2.4"/>
<polygon points="448.00,604.10 437.93,614.45 433.63,602.61" fill="#000"/>
<line x1="405.40" y1="649.70" x2="441.97" y2="629.75" stroke="#000" stroke-width="2.4"/>
<polygon points="452.50,624.00 444.11,635.76 438.07,624.70" fill="#000"/>
</svg>
</body></html>
